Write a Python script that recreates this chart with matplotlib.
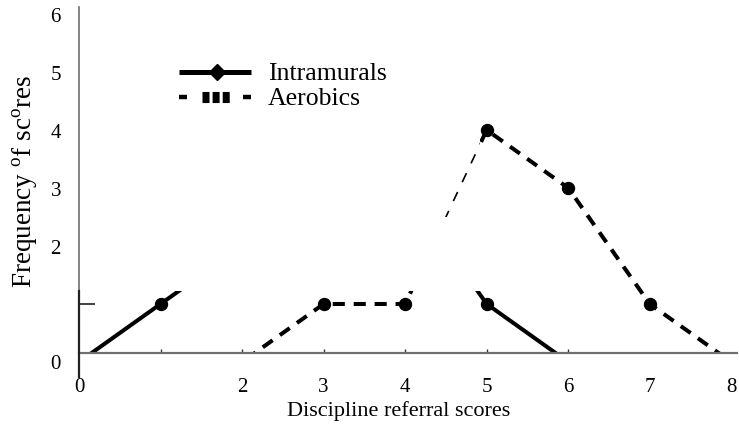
import matplotlib

matplotlib.use("Agg")
import matplotlib.pyplot as plt
from matplotlib.lines import Line2D
from matplotlib.patches import Rectangle

# values
scores = [0, 1, 2, 3, 4, 5, 6, 7, 8]
intramurals = [0, 1, 2, 3, 3, 1, 0, 0, 0]
aerobics = [0, 0, 0, 1, 1, 4, 3, 1, 0]
xtick_vals = [0, 2, 3, 4, 5, 6, 7, 8]
ytick_vals = [0, 2, 3, 4, 5, 6]

plt.rcParams["font.family"] = ["Liberation Serif", "DejaVu Serif"]
plt.rcParams["mathtext.fontset"] = "custom"
plt.rcParams["mathtext.rm"] = "Liberation Serif"

W, H = 739, 435
fig = plt.figure(figsize=(W / 100, H / 100), dpi=100)
ax = fig.add_axes([79 / W, 81 / H, 658 / W, 346 / H])

y_bot, y_top = 0.155, 6.12
x_max = 8.07
band_top = 1.22

axis_grey = "#707070"
for side in ["top", "right"]:
    ax.spines[side].set_visible(False)
ax.spines["left"].set_color(axis_grey)
ax.spines["bottom"].set_color(axis_grey)
ax.spines["left"].set_linewidth(1.2)
ax.spines["bottom"].set_linewidth(1.6)

ax.xaxis.remove_overlapping_locs = False
ax.set_xticks(xtick_vals)
ax.set_xticklabels([str(v) for v in xtick_vals])
ax.set_xticks([1, 2, 3, 4, 5, 6], minor=True)
ax.tick_params(axis="x", which="major", length=0, pad=17, labelsize=15)
ax.tick_params(axis="x", which="minor", direction="in", length=3, width=1, color="#333333")

ax.set_yticks(ytick_vals)
ax.set_yticklabels([str(v) for v in ytick_vals])
ax.set_yticks([1], minor=True)
ax.tick_params(axis="y", which="major", length=0, pad=13, labelsize=15)
ax.tick_params(axis="y", which="minor", direction="in", length=11.5, width=1.2, color="#222222")

# limits after the ticks so they are not widened again
ax.set_xlim(0, x_max)
ax.set_ylim(y_bot, y_top)

# the "0" of the y axis sits below the x axis line, outside the view
ax.annotate(str(ytick_vals[0]), xy=(0, ytick_vals[0]), xycoords=("axes fraction", "data"),
            xytext=(-13, -1), textcoords="offset points", ha="right", va="center",
            fontsize=15, annotation_clip=False)

# dark part of the y axis in the lower band, running below the x axis
ax.plot([0, 0], [-0.26, band_top], color="#222222", lw=1.6, clip_on=False, zorder=3)

ax.set_xlabel("Discipline referral scores", fontsize=16)
ax.xaxis.set_label_coords(0.485, -0.135)
ax.set_ylabel(r"Frequency $^{\mathrm{o}}$f sc$^{\mathrm{o}}$res", fontsize=19.5)
ax.yaxis.set_label_coords(-0.06, 0.5)

# visible regions of the drawing
regions = [
    (0, y_bot, x_max, band_top - y_bot),
    (4.92, band_top, x_max - 4.92, y_top - band_top),
]

for x0, y0, w, h in regions:
    clip = Rectangle((x0, y0), w, h, transform=ax.transData)
    l1, = ax.plot(scores, intramurals, color="black", lw=2.9, marker="o", ms=8.6,
                  solid_capstyle="butt")
    l1.set_clip_path(clip)
    clip2 = Rectangle((x0, y0), w, h, transform=ax.transData)
    l2, = ax.plot(scores, aerobics, color="black", lw=2.9, marker="o", ms=8.6,
                  dashes=(3, 2.2), dash_capstyle="butt")
    l2.set_clip_path(clip2)

# thin dashed stretch of the aerobics line
thin_clip = Rectangle((4.45, 2.5), 0.47, y_top - 2.5, transform=ax.transData)
l3, = ax.plot(scores, aerobics, color="black", lw=1.2, dashes=(6, 6.5))
l3.set_clip_path(thin_clip)


# legend drawn by hand in pixel positions
def px(x, y):
    return x / W, 1 - y / H


def fig_line(xs, ys, **kw):
    pts = [px(x, y) for x, y in zip(xs, ys)]
    fig.add_artist(Line2D([p[0] for p in pts], [p[1] for p in pts],
                          transform=fig.transFigure, color="black", **kw))


fig_line([179, 251], [73, 73], lw=3.6, solid_capstyle="butt")
fig_line([217], [73], marker="D", ms=8, lw=0)
fig_line([179, 187], [98, 98], lw=3.2, solid_capstyle="butt")
fig_line([243, 251], [98, 98], lw=3.2, solid_capstyle="butt")
fig_line([202, 229.5], [98, 98], lw=8.0, dashes=(0.63, 0.28), dash_capstyle="butt")

fig.text(*px(268, 74), "Intramurals", fontsize=18.5, va="center", ha="left")
fig.text(*px(268, 99), "Aerobics", fontsize=18.5, va="center", ha="left")

fig.savefig("out.png", dpi=100)
